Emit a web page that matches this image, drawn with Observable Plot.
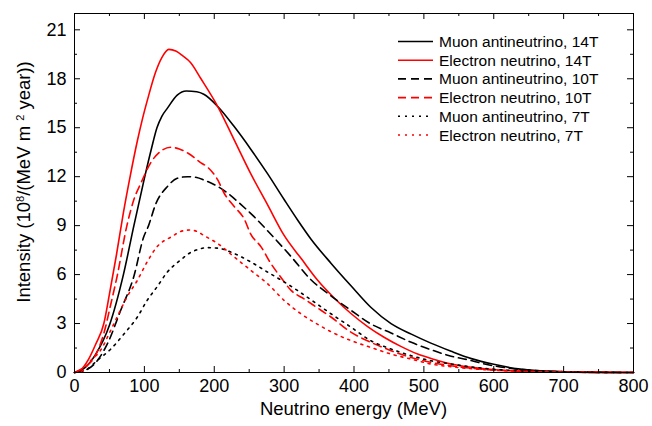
<!DOCTYPE html>
<html><head><meta charset="utf-8">
<script src="https://cdn.jsdelivr.net/npm/d3@7"></script>
<script src="https://cdn.jsdelivr.net/npm/@observablehq/plot@0.6"></script>
<style>
html,body{margin:0;padding:0;background:#fff;}
#wrap{position:relative;width:652px;height:426px;}
</style></head><body><div id="wrap"></div>
<script>
// ---- data ----
const muon14E = [0,15,30,50,70,85,100,110,118,125,133,147,160,175,185,205,228,252,276,300,320,338,367,396,424,453,482,510,539,568,600,635,670,700,750,800];
const muon14I = [0,0.3,1.1,2.9,6.0,9.0,11.9,13.7,15.0,15.7,16.2,17.0,17.25,17.2,17.05,16.3,15.1,13.7,12.2,10.6,9.3,8.2,6.7,5.3,4.0,3.0,2.35,1.8,1.3,0.85,0.5,0.22,0.1,0.05,0.01,0];

const elec14E = [0,10,20,30,42,50,60,70,80,90,97,105,116,125,135,145,155,166,181,205,228,252,276,300,325,348,372,396,420,443,467,491,515,539,586,650,700,800];
const elec14I = [0,0.2,0.8,1.7,3.0,4.8,7.2,9.8,12.1,14.2,15.5,16.8,18.4,19.3,19.8,19.7,19.4,19.0,18.0,16.3,14.3,12.2,10.3,8.4,6.95,5.65,4.55,3.6,2.8,2.16,1.6,1.13,0.8,0.52,0.23,0.06,0.02,0];

const muon10E = [0,13,28,47,66,85,99,106,116,133,147,162,175,185,205,219,238,257,276,310,338,367,396,424,453,482,510,539,563,587,635,700,800];
const muon10I = [0,0.1,0.5,1.75,3.8,5.9,8.3,9.0,10.3,11.4,11.9,12.0,11.95,11.8,11.4,11.0,10.3,9.55,8.7,7.1,5.7,4.7,3.8,2.98,2.42,1.85,1.4,1.0,0.78,0.52,0.2,0.05,0];

const elec10E = [0,13,28,42,52,61,75,85,95,109,123,138,150,162,181,190,205,214,228,243,252,267,281,295,310,329,348,367,396,424,453,482,510,539,570,600,650,700,800];
const elec10I = [0,0.3,0.9,2.4,4.2,5.9,9.0,10.6,11.6,12.85,13.55,13.8,13.7,13.45,12.85,12.6,11.8,11.0,10.2,9.4,8.5,7.7,6.68,5.85,5.03,4.5,3.95,3.4,2.46,1.85,1.34,0.92,0.62,0.41,0.25,0.15,0.06,0.02,0];

const muon7E = [0,18,32,52,71,90,104,118,133,152,166,174,190,205,228,252,276,300,319,338,367,396,424,453,482,510,539,563,600,650,700,800];
const muon7I = [0,0.2,0.72,1.44,2.37,3.4,4.42,5.24,6.16,6.9,7.35,7.5,7.65,7.62,7.3,6.78,6.16,5.55,5.03,4.47,3.6,2.77,1.95,1.44,1.03,0.72,0.52,0.37,0.2,0.08,0.03,0];

const elec7E = [0,11,23,37,52,61,75,90,104,118,138,157,166,176,185,205,228,252,276,300,324,348,367,396,424,453,482,510,539,563,600,650,700,800];
const elec7I = [0,0.1,0.72,1.34,2.6,3.4,4.62,5.65,6.78,7.7,8.3,8.7,8.73,8.63,8.4,7.9,7.1,6.27,5.45,4.42,3.6,2.95,2.5,1.95,1.54,1.13,0.82,0.52,0.35,0.25,0.14,0.06,0.02,0];

const seriesNames = ["Muon antineutrino, 14T","Electron neutrino, 14T","Muon antineutrino, 10T","Electron neutrino, 10T","Muon antineutrino, 7T","Electron neutrino, 7T"];
const seriesE = [muon14E, elec14E, muon10E, elec10E, muon7E, elec7E];
const seriesI = [muon14I, elec14I, muon10I, elec10I, muon7I, elec7I];
const seriesColor = ["#000000","#ff0000","#000000","#ff0000","#000000","#ff0000"];
const seriesDash = [null,null,"8,5","8,5","2,5","2,5"];

const xMajor = [0,100,200,300,400,500,600,700,800];
const xMinor = [50,150,250,350,450,550,650,750];
const yMajor = [0,3,6,9,12,15,18,21];
const yMinor = [1.5,4.5,7.5,10.5,13.5,16.5,19.5];

// ---- chart ----
const W = 652, H = 426, ML = 74, MR = 19, MT = 13, MB = 54;
const PW = W - ML - MR, PH = H - MT - MB;
const MAJ = 6, MIN = 3;
const FONT = "'Liberation Sans', Arial, sans-serif";

const lineMarks = seriesNames.map((name, k) => {
  const rows = seriesE[k].map((e, i) => ({e, v: seriesI[k][i], name}));
  return Plot.line(rows, {x: "e", y: "v", stroke: seriesColor[k], strokeWidth: 1.6,
    strokeDasharray: seriesDash[k], curve: "monotone-x"});
});

const tickStyle = {stroke: "#000", strokeWidth: 1};
const chart = Plot.plot({
  width: W, height: H,
  marginLeft: ML, marginRight: MR, marginTop: MT, marginBottom: MB,
  style: {fontFamily: FONT, fontSize: "18px", color: "#000", background: "#fff", overflow: "visible"},
  x: {domain: [0, 800]},
  y: {domain: [0, 22]},
  marks: [
    ...lineMarks,
    // inward ticks on all four sides
    Plot.ruleX(xMajor, {x: d => d, insetTop: PH - MAJ, ...tickStyle}),
    Plot.ruleX(xMajor, {x: d => d, insetBottom: PH - MAJ, ...tickStyle}),
    Plot.ruleX(xMinor, {x: d => d, insetTop: PH - MIN, ...tickStyle}),
    Plot.ruleX(xMinor, {x: d => d, insetBottom: PH - MIN, ...tickStyle}),
    Plot.ruleY(yMajor, {y: d => d, insetRight: PW - MAJ, ...tickStyle}),
    Plot.ruleY(yMajor, {y: d => d, insetLeft: PW - MAJ, ...tickStyle}),
    Plot.ruleY(yMinor, {y: d => d, insetRight: PW - MIN, ...tickStyle}),
    Plot.ruleY(yMinor, {y: d => d, insetLeft: PW - MIN, ...tickStyle}),
    // tick labels
    Plot.axisX(xMajor, {anchor: "bottom", tickSize: 0, tickPadding: 7, fontSize: 18, label: null}),
    Plot.axisY(yMajor, {anchor: "left", tickSize: 0, tickPadding: 8, fontSize: 18, label: null}),
    Plot.frame({stroke: "#000", strokeWidth: 1})
  ]
});
document.getElementById("wrap").appendChild(chart);

// ---- axis titles & legend (real text) ----
const svg = d3.select(chart);
svg.append("text")
  .attr("x", ML + PW / 2).attr("y", 415)
  .attr("text-anchor", "middle")
  .attr("font-family", FONT).attr("font-size", 18.5).attr("fill", "#000")
  .text("Neutrino energy (MeV)");

const yl = svg.append("text")
  .attr("transform", "translate(30,182) rotate(-90)")
  .attr("text-anchor", "middle")
  .attr("font-family", FONT).attr("font-size", 18.5).attr("fill", "#000");
yl.append("tspan").text("Intensity (10");
yl.append("tspan").attr("baseline-shift", "super").attr("font-size", 11).text("8");
yl.append("tspan").text("/(MeV m ");
yl.append("tspan").attr("baseline-shift", "super").attr("font-size", 11).text("2");
yl.append("tspan").text(" year))");

const lg = svg.append("g").attr("font-family", FONT).attr("font-size", 15.5)
  .attr("fill", "#000").attr("text-anchor", "start");
seriesNames.forEach((name, k) => {
  const y = 41.5 + k * 18.7;
  lg.append("line").attr("x1", 398).attr("x2", 433).attr("y1", y).attr("y2", y)
    .attr("stroke", seriesColor[k]).attr("stroke-width", 1.6)
    .attr("stroke-dasharray", seriesDash[k] || null);
  lg.append("text").attr("x", 439).attr("y", y + 5.5).attr("text-anchor", "start").text(name);
});
</script>
</body></html>
